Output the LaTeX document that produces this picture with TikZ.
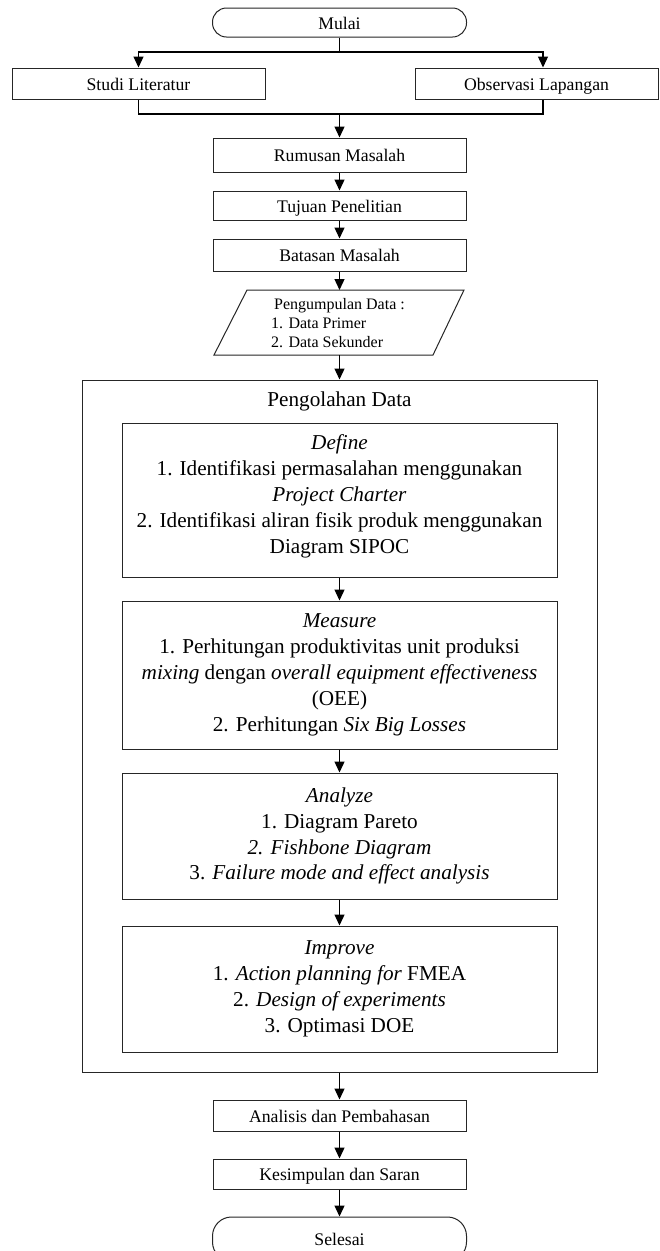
\documentclass[tikz,border=0pt]{standalone}
\usepackage{fontspec}
\setmainfont{Liberation Serif}
\usetikzlibrary{arrows.meta,calc}
\newcommand\fsmall{\fontsize{17.7}{21}\selectfont}
\newcommand\fbig{\fontsize{21.2}{25.9}\selectfont}
\newcommand\fpara{\fontsize{16}{19}\selectfont}
\tikzset{
  boxline/.style={draw=black!85, line width=1pt},
  box/.style={boxline, fill=white, minimum width=253pt, inner sep=0pt, font=\fsmall, align=center, text height=13pt, text depth=0pt},
  term/.style={box, rounded corners=14pt},
  stagebox/.style={boxline, minimum width=435pt, inner sep=0pt, font=\fbig, align=center},
  ln/.style={line width=1.3pt},
  arr/.style={line width=1.3pt, -{Triangle[width=10pt,length=11pt]}}
}
\begin{document}
\begin{tikzpicture}[x=1pt,y=-1pt]
\clip (0,0) rectangle (659,1251);
\fill[white] (0,0) rectangle (659,1251);

% top part
\node[term, minimum width=254pt, minimum height=29pt] (mulai) at (339.5,22.5) {Mulai};
\node[box, minimum width=253pt, minimum height=31pt] (stu) at (138.5,83.5) {Studi Literatur};
\node[box, minimum width=243pt, minimum height=31pt] (obs) at (536.5,83.5) {Observasi Lapangan};
\coordinate (jT) at (339.5,52);
\coordinate (jB) at (339.5,114);
\coordinate (obsIn) at ([xshift=6.5pt]obs.north);
\coordinate (obsOut) at ([xshift=6.5pt]obs.south);

\node[box, minimum height=34pt] (rum) at (339.5,155) {Rumusan Masalah};
\node[box, minimum height=29pt] (tuj) at (339.5,205.5) {Tujuan Penelitian};
\node[box, minimum height=32pt] (bat) at (339.5,255) {Batasan Masalah};

% parallelogram
\draw[boxline, fill=white] (214,355) -- (247,290) -- (464,290) -- (433,355) -- cycle;
\node[font=\fpara, align=left, inner sep=0pt] (pgd) at (338,323) {\hspace*{3pt}Pengumpulan Data :\\1. Data Primer\\2. Data Sekunder};
\coordinate (pTop) at (339.5,290);
\coordinate (pBot) at (339.5,355);

% big processing box
\node[boxline, minimum width=515pt, minimum height=692pt, inner sep=0pt] (olah) at (339.5,726) {};
\node[font=\fbig, inner sep=0pt] (olahT) at (339.5,401) {Pengolahan Data};

\node[stagebox, minimum height=154pt, text depth=12pt] (def) at (339.5,500) {\textit{Define}\\1. Identifikasi permasalahan menggunakan\\\textit{Project Charter}\\2. Identifikasi aliran fisik produk menggunakan\\Diagram SIPOC};
\node[stagebox, minimum height=148pt] (mea) at (339.5,675) {\textit{Measure}\\1. Perhitungan produktivitas unit produksi\\\textit{mixing} dengan \textit{overall equipment effectiveness}\\(OEE)\\2. Perhitungan \textit{Six Big Losses}};
\node[stagebox, minimum height=126pt] (anz) at (339.5,836) {\textit{Analyze}\\1. Diagram Pareto\\\textit{2. Fishbone Diagram}\\3. \textit{Failure mode and effect analysis}};
\node[stagebox, minimum height=126pt] (imp) at (339.5,989) {\textit{Improve}\\1. \textit{Action planning for} FMEA\\2. \textit{Design of experiments}\\3. Optimasi DOE};

% bottom part
\node[box, minimum height=31pt] (anl) at (339.5,1115.5) {Analisis dan Pembahasan};
\node[box, minimum height=30pt] (kes) at (339.5,1174) {Kesimpulan dan Saran};
\node[box, rounded corners=19pt, minimum width=254pt, minimum height=44pt] (sel) at (339.5,1239) {Selesai};

% connectors
\draw[ln] (mulai.south) -- (jT);
\draw[arr] (jT) -| (stu.north);
\draw[arr] (jT) -| (obsIn);
\draw[ln] (stu.south) |- (jB) -| (obsOut);
\draw[arr] (jB) -- (rum.north);
\draw[arr] (rum.south) -- (tuj.north);
\draw[arr] (tuj.south) -- (bat.north);
\draw[arr] (bat.south) -- (pTop);
\draw[arr] (pBot) -- (olah.north);
\draw[arr] (def.south) -- (mea.north);
\draw[arr] (mea.south) -- (anz.north);
\draw[arr] (anz.south) -- (imp.north);
\draw[arr] (olah.south) -- (anl.north);
\draw[arr] (anl.south) -- (kes.north);
\draw[arr] (kes.south) -- (sel.north);
\end{tikzpicture}
\end{document}
